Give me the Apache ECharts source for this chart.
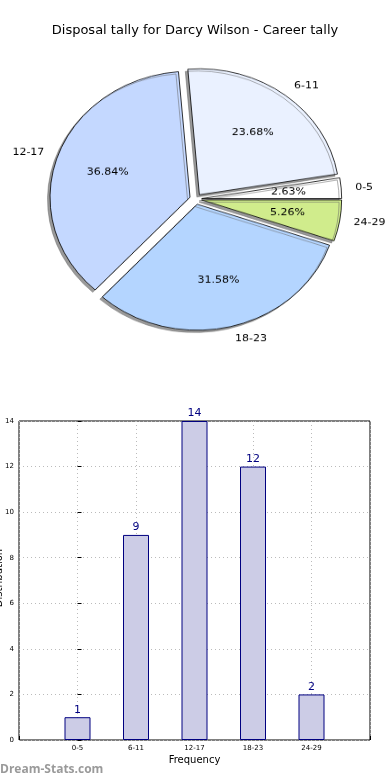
<!DOCTYPE html>
<html>
<head>
<meta charset="utf-8">
<script src="https://cdn.jsdelivr.net/npm/echarts@6/dist/echarts.min.js"></script>
<style>
  html, body { margin: 0; padding: 0; background: #fff; }
  #wrap { position: relative; width: 390px; height: 780px; overflow: hidden; }
  #main { position: absolute; left: 0; top: 0; width: 390px; height: 780px; }
  #pie { position: absolute; left: 0; top: 0; width: 390px; height: 400px;
         transform: scaleY(0.9); transform-origin: 195px 199px; }
</style>
</head>
<body>
<div id="wrap">
  <div id="main"></div>
  <div id="pie"></div>
</div>
<script>
// ---- data ----
const titleText = 'Disposal tally for Darcy Wilson - Career tally';
const categories = ['0-5', '6-11', '12-17', '18-23', '24-29'];
const counts = [1, 9, 14, 12, 2];
const yTicks = [0, 2, 4, 6, 8, 10, 12, 14];
const xAxisName = 'Frequency';
const yAxisName = 'Distribution';
const watermark = 'Dream-Stats.com';

// ---- styles ----
const pieColors = ['#ffffff', '#eaf1ff', '#c4d8ff', '#b4d5ff', '#d0ec8c'];
const FONT = '"DejaVu Sans", "Liberation Sans", sans-serif';

const total = counts.reduce((a, b) => a + b, 0);

// ---- main chart: title + bar ----
const main = echarts.init(document.getElementById('main'), null, { renderer: 'canvas' });
main.setOption({
  animation: false,
  backgroundColor: '#fff',
  title: {
    text: titleText, left: 'center', top: 19,
    textStyle: { fontFamily: FONT, fontSize: 13, fontWeight: 'normal', color: '#000' }
  },
  graphic: [
    {
      type: 'text', left: 0, top: 764,
      style: { text: watermark, fill: '#9a9a9a', font: 'bold 12px "Open Sans", "DejaVu Sans", sans-serif' }
    },
    {
      type: 'text', x: 4, y: 578, rotation: Math.PI / 2,
      style: { text: yAxisName, fill: '#000', align: 'center', verticalAlign: 'bottom',
               font: '10px "DejaVu Sans", sans-serif' }
    }
  ],
  grid: {
    left: 19, right: 20, top: 421, bottom: 40,
    show: true, borderColor: '#000', borderWidth: 1,
    outerBoundsMode: 'none', containLabel: false
  },
  xAxis: {
    type: 'value', min: -1, max: 5, interval: 1,
    name: xAxisName, nameLocation: 'middle', nameGap: 15, nameMoveOverlap: false,
    nameTextStyle: { fontFamily: FONT, fontSize: 10, color: '#000' },
    axisLine: { show: false },
    axisTick: { show: true, inside: true, length: 4, lineStyle: { color: '#000' } },
    axisLabel: {
      fontFamily: FONT, fontSize: 7, color: '#000', margin: 5,
      formatter: v => (categories[v] !== undefined ? categories[v] : '')
    },
    splitLine: { show: true, lineStyle: { color: '#bbbbbb', type: [1, 3], width: 1 } }
  },
  yAxis: {
    type: 'value', min: yTicks[0], max: yTicks[yTicks.length - 1], interval: 2,
    axisLine: { show: false },
    axisTick: { show: true, inside: true, length: 4, lineStyle: { color: '#000' } },
    axisLabel: { fontFamily: FONT, fontSize: 7, color: '#000', margin: 5 },
    splitLine: { show: true, lineStyle: { color: '#bbbbbb', type: [1, 3], width: 1 } }
  },
  series: [{
    type: 'bar',
    data: counts.map((v, i) => [i, v]),
    barWidth: 26,
    itemStyle: { color: '#cccce6', borderColor: '#000080', borderWidth: 1 },
    label: {
      show: true, position: 'top', distance: 2,
      fontFamily: FONT, fontSize: 11, color: '#000080',
      formatter: p => String(p.value[1])
    },
    emphasis: { disabled: true },
    silent: true
  }]
});

// ---- pie chart ----
const pie = echarts.init(document.getElementById('pie'), null, { renderer: 'canvas' });
const R = 140;
const center = [195.7, 199];
pie.setOption({
  animation: false,
  series: [
    {
      type: 'pie',
      center: center, radius: [0, R],
      startAngle: 0, clockwise: false,
      selectedMode: 'multiple', selectedOffset: 6,
      avoidLabelOverlap: false,
      data: categories.map((c, i) => ({
        name: c, value: counts[i], selected: true,
        itemStyle: { color: pieColors[i] }
      })),
      itemStyle: {
        borderColor: '#000', borderWidth: 0.8,
        shadowColor: 'rgba(100,100,100,0.65)', shadowBlur: 0, shadowOffsetX: -2.5, shadowOffsetY: 2.5
      },
      label: {
        show: true, position: 'outside', formatter: '{b}',
        distanceToLabelLine: 0,
        fontFamily: FONT, fontSize: 11, color: '#000'
      },
      labelLine: { show: false, length: 14, length2: 0 },
      emphasis: { disabled: true },
      silent: true
    },
    {
      type: 'pie',
      center: center, radius: [0, R * 1.2],
      startAngle: 0, clockwise: false,
      selectedMode: 'multiple', selectedOffset: 6,
      avoidLabelOverlap: false,
      data: categories.map((c, i) => ({ name: c, value: counts[i], selected: true })),
      itemStyle: { color: 'rgba(0,0,0,0)', borderWidth: 0 },
      label: {
        show: true, position: 'inside',
        formatter: p => (p.value / total * 100).toFixed(2) + '%',
        fontFamily: FONT, fontSize: 11, color: '#000'
      },
      labelLine: { show: false },
      emphasis: { disabled: true },
      silent: true,
      z: 3
    }
  ]
});
</script>
</body>
</html>
